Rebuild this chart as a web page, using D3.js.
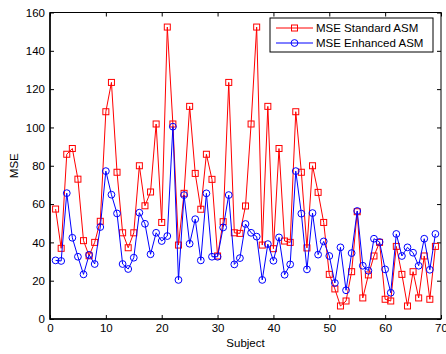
<!DOCTYPE html>
<html>
<head>
<meta charset="utf-8">
<script src="https://cdn.jsdelivr.net/npm/d3@7"></script>
<style>
  body { margin: 0; background: #fff; }
  text { font-family: "Liberation Sans", Arial, sans-serif; }
</style>
</head>
<body>
<div id="chart"></div>
<script>
// MSE per subject
const standardMse = [57.4, 36.9, 86, 89, 73, 40.9, 33, 40, 51, 108.2,
  123.5, 76.6, 45, 37.2, 45, 80, 59.1, 66.3, 101.8, 50.4,
  152.4, 101.8, 38.6, 65.6, 111, 76, 57.3, 86, 72.9, 32.9,
  50.8, 123.5, 45, 44.7, 59, 101.8, 152.4, 38.6, 111, 36.7,
  89, 40.7, 40, 108.2, 76.6, 37.1, 80, 66.1, 50.4, 23.3,
  15.7, 6.8, 9.4, 24.7, 56, 11, 23, 32.9, 40, 10.3,
  9.4, 37.9, 23.3, 6.8, 24.7, 11, 32.9, 10.3, 37.9];
const enhancedMse = [30.6, 30.3, 65.7, 42.4, 32.5, 23.3, 33.5, 28.7, 48, 77.2,
  64.9, 55.1, 28.7, 26.1, 32, 55.5, 49.7, 33.8, 45, 40.7,
  43.3, 100.4, 20.4, 64.7, 39.3, 52.1, 30.6, 65.6, 32.5, 32.5,
  47.8, 64.7, 28.5, 31.8, 49.6, 45, 43, 20.4, 39.1, 30.4,
  42.6, 23.1, 28.5, 77.2, 55, 25.9, 55.3, 33.6, 40.5, 32.9,
  18.8, 37.4, 15, 34.4, 56.4, 27.8, 25.2, 41.9, 40.2, 25.9,
  13.7, 44.4, 32.9, 37.4, 34.6, 27.8, 41.9, 25.7, 44.4];
const subjects = d3.range(1, standardMse.length + 1);
const xTicks = [0, 10, 20, 30, 40, 50, 60, 70];
const yTicks = [0, 20, 40, 60, 80, 100, 120, 140, 160];
const seriesNames = ["MSE Standard ASM", "MSE Enhanced ASM"];

const width = 446, height = 354;
const plotLeft = 50, plotRight = 441, plotTop = 12.5, plotBottom = 319;
const fontSize = "11.5px";

const svg = d3.select("#chart").append("svg")
  .attr("width", width)
  .attr("height", height);

const x = d3.scaleLinear().domain([0, 70]).range([plotLeft, plotRight]);
const y = d3.scaleLinear().domain([0, 160]).range([plotBottom, plotTop]);

// axes, ticks pointing inward like matlab
const tickLen = 4;
function styleAxis(g) {
  g.select(".domain").remove();
  g.selectAll("line").attr("stroke", "#000");
  g.selectAll("text").style("font-size", fontSize).attr("fill", "#000");
}

svg.append("g")
  .attr("transform", `translate(0,${plotBottom})`)
  .call(d3.axisBottom(x).tickValues(xTicks).tickSizeInner(-tickLen).tickSizeOuter(0).tickPadding(5))
  .call(styleAxis);
svg.append("g")
  .attr("transform", `translate(0,${plotTop})`)
  .call(d3.axisTop(x).tickValues(xTicks).tickSizeInner(-tickLen).tickSizeOuter(0).tickFormat(""))
  .call(styleAxis);
svg.append("g")
  .attr("transform", `translate(${plotLeft},0)`)
  .call(d3.axisLeft(y).tickValues(yTicks).tickSizeInner(-tickLen).tickSizeOuter(0).tickPadding(5))
  .call(styleAxis);
svg.append("g")
  .attr("transform", `translate(${plotRight},0)`)
  .call(d3.axisRight(y).tickValues(yTicks).tickSizeInner(-tickLen).tickSizeOuter(0).tickFormat(""))
  .call(styleAxis);

// plot box
svg.append("rect")
  .attr("x", plotLeft).attr("y", plotTop)
  .attr("width", plotRight - plotLeft).attr("height", plotBottom - plotTop)
  .attr("fill", "none").attr("stroke", "#000").attr("stroke-width", 1);
svg.append("path")
  .attr("d", `M${plotLeft},${plotTop}V${plotBottom}H${plotRight}`)
  .attr("fill", "none").attr("stroke", "#000").attr("stroke-width", 1.5);

const line = d3.line().x((d, i) => x(subjects[i])).y(d => y(d));

// red squares first, blue circles on top
svg.append("path")
  .datum(standardMse)
  .attr("d", line)
  .attr("fill", "none").attr("stroke", "#ff0000").attr("stroke-width", 1);
svg.append("g").selectAll("rect")
  .data(standardMse)
  .enter().append("rect")
  .attr("x", (d, i) => x(subjects[i]) - 3)
  .attr("y", d => y(d) - 3)
  .attr("width", 6).attr("height", 6)
  .attr("fill", "none").attr("stroke", "#ff0000").attr("stroke-width", 1);

svg.append("path")
  .datum(enhancedMse)
  .attr("d", line)
  .attr("fill", "none").attr("stroke", "#0000ff").attr("stroke-width", 1);
svg.append("g").selectAll("circle")
  .data(enhancedMse)
  .enter().append("circle")
  .attr("cx", (d, i) => x(subjects[i]))
  .attr("cy", d => y(d))
  .attr("r", 3.4)
  .attr("fill", "none").attr("stroke", "#0000ff").attr("stroke-width", 1);

// axis labels
svg.append("text")
  .attr("x", (plotLeft + plotRight) / 2)
  .attr("y", 347)
  .attr("text-anchor", "middle")
  .style("font-size", fontSize)
  .text("Subject");
svg.append("text")
  .attr("transform", `translate(18,${(plotTop + plotBottom) / 2}) rotate(-90)`)
  .attr("text-anchor", "middle")
  .style("font-size", fontSize)
  .text("MSE");

// legend
const legend = svg.append("g").attr("transform", "translate(270,18)");
legend.append("rect")
  .attr("width", 163).attr("height", 34)
  .attr("fill", "#fff").attr("stroke", "#000").attr("stroke-width", 1);
const colors = ["#ff0000", "#0000ff"];
seriesNames.forEach((name, i) => {
  const ly = 10 + i * 15;
  const row = legend.append("g");
  row.append("line")
    .attr("x1", 6).attr("x2", 43).attr("y1", ly).attr("y2", ly)
    .attr("stroke", colors[i]).attr("stroke-width", 1);
  if (i === 0) {
    row.append("rect")
      .attr("x", 24.5 - 3).attr("y", ly - 3).attr("width", 6).attr("height", 6)
      .attr("fill", "none").attr("stroke", colors[i]);
  } else {
    row.append("circle")
      .attr("cx", 24.5).attr("cy", ly).attr("r", 3.4)
      .attr("fill", "none").attr("stroke", colors[i]);
  }
  row.append("text")
    .attr("x", 46).attr("y", ly).attr("dy", "0.35em")
    .style("font-size", fontSize)
    .text(name);
});
</script>
</body>
</html>
